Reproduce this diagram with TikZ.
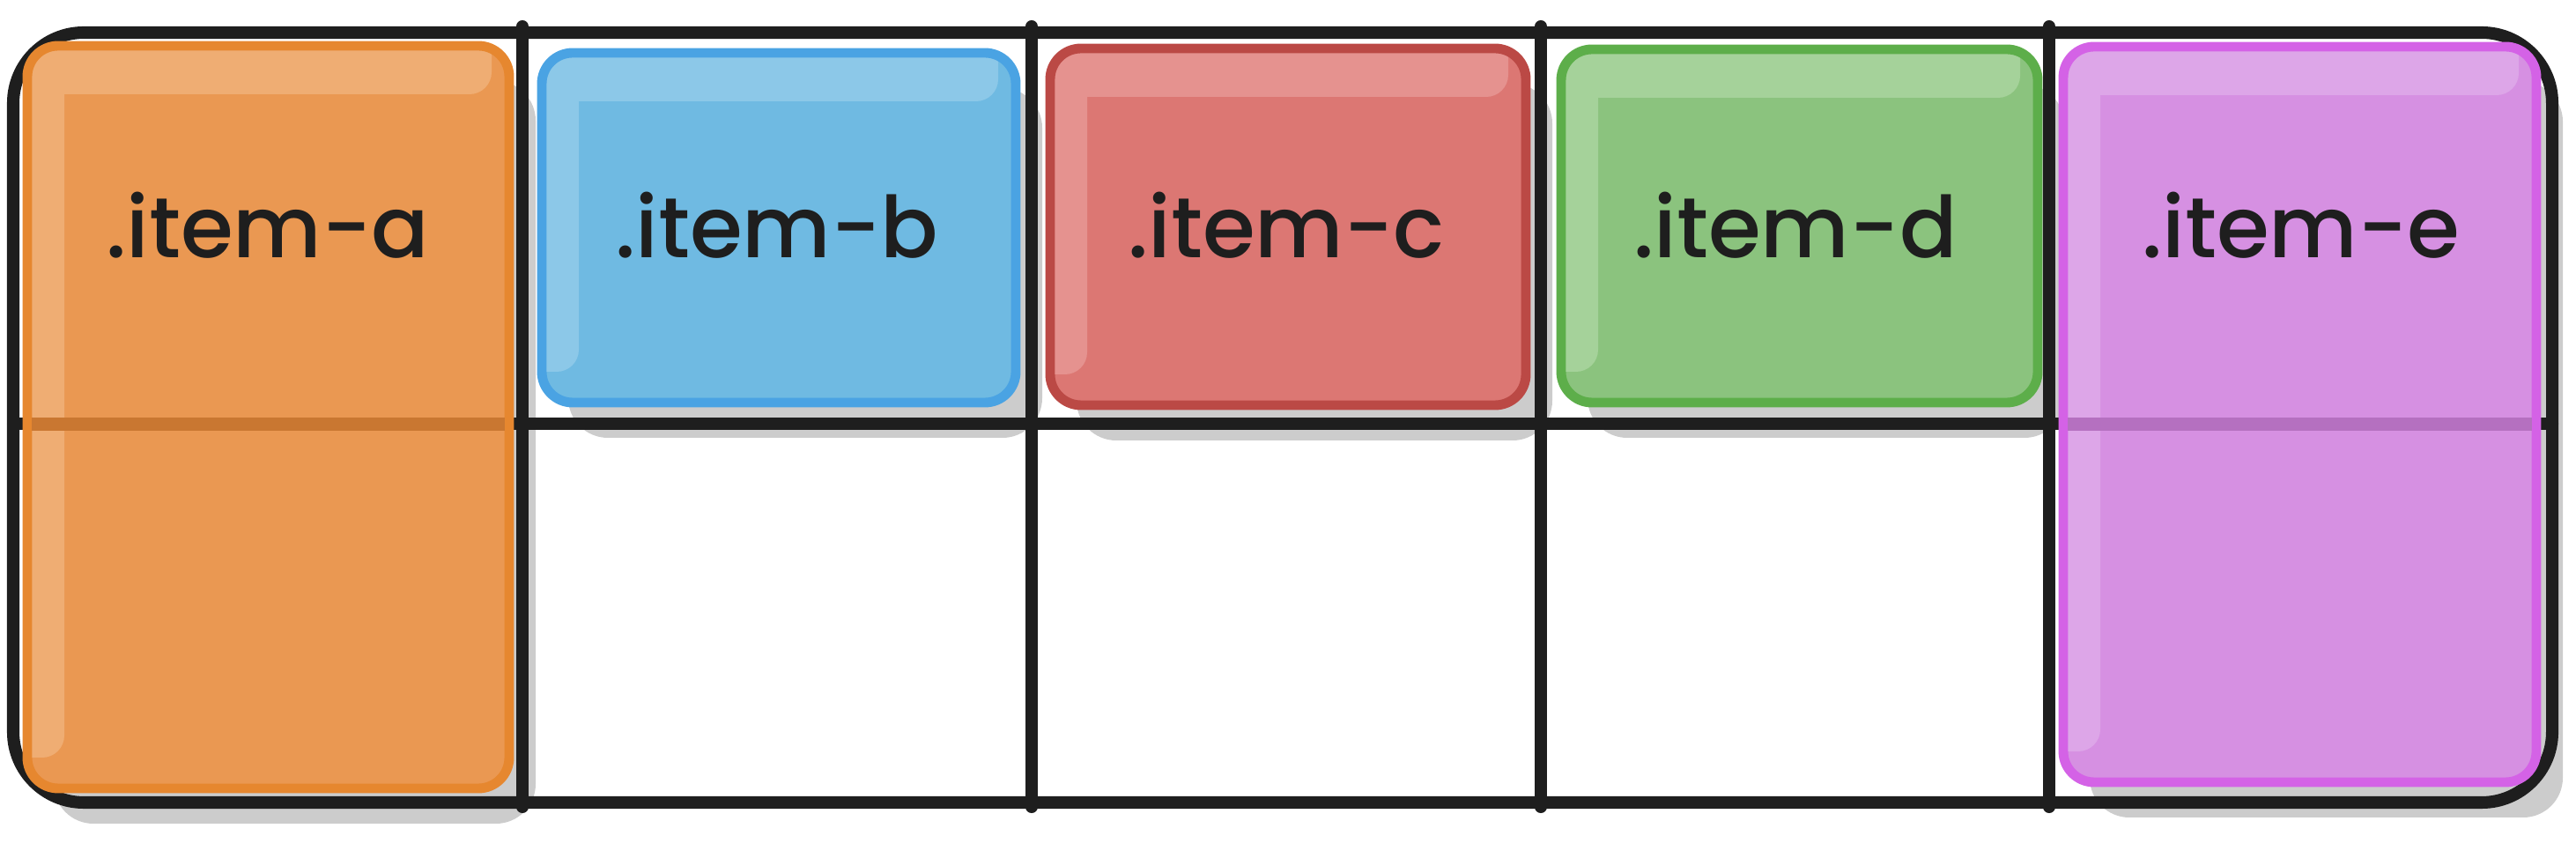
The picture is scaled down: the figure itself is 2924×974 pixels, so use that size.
\documentclass[tikz,border=0pt]{standalone}
\usepackage{fontspec}
\setmainfont{Poppins}
\newfontfamily\lblfont{Poppins Medium}
\definecolor{ink}{HTML}{1E1E1E}
\definecolor{shade}{HTML}{CCCCCC}
\definecolor{aB}{HTML}{E6872F}\definecolor{aM}{HTML}{EA9852}\definecolor{aH}{HTML}{EFAD73}\definecolor{aL}{HTML}{C97731}
\definecolor{bB}{HTML}{4AA3E3}\definecolor{bM}{HTML}{6FBAE2}\definecolor{bH}{HTML}{8CC8E8}
\definecolor{cB}{HTML}{BB4945}\definecolor{cM}{HTML}{DC7773}\definecolor{cH}{HTML}{E5928F}
\definecolor{dB}{HTML}{5DAE4A}\definecolor{dM}{HTML}{8BC37E}\definecolor{dH}{HTML}{A5D29A}
\definecolor{eB}{HTML}{D462E6}\definecolor{eM}{HTML}{D690E2}\definecolor{eH}{HTML}{DDA6E8}\definecolor{eL}{HTML}{B570C0}
\tikzset{
  gridline/.style={draw=ink, line width=4pt, line cap=round, line join=round},
  boxborder/.style={line width=3.1pt, rounded corners=0.35cm},
  shadowbox/.style={fill=shade, rounded corners=0.45cm},
  label/.style={text=ink, font=\lblfont\fontsize{27.5}{33}\selectfont, anchor=base, inner sep=0pt},
}
% #1 L, #2 T, #3 R, #4 B, #5 prefix letter
\newcommand\shadowof[4]{\fill[shadowbox] ({#1+30},{#2+40}) rectangle ({#3+30},{#4+40});}
\newcommand\itembox[5]{%
  \begin{scope}
    \clip[rounded corners=0.35cm] (#1,#2) rectangle (#3,#4);
    \fill[#5M] (#1,#2) rectangle (#3,#4);
    \fill[#5H, rounded corners=0.25cm] ({#1-20},{#2-20}) rectangle ({#3-20},{#2+55});
    \fill[#5H, rounded corners=0.25cm] ({#1-20},{#2-20}) rectangle ({#1+42},{#4-35});
  \end{scope}
  \draw[boxborder, draw=#5B] (#1,#2) rectangle (#3,#4);
}
\begin{document}
\begin{tikzpicture}[x=0.01cm, y=-0.01cm]
\useasboundingbox (0,0) rectangle (2924,974);
% shadows
\shadowof{31}{52}{578}{895}
\shadowof{615}{60}{1153}{457}
\shadowof{1192}{55}{1732}{460}
\shadowof{1772}{56}{2313}{457}
\shadowof{2342}{53}{2879}{888}
% grid
\coordinate (tl) at (15,37);
\coordinate (br) at (2897,911);
\draw[gridline, rounded corners=0.8cm] (tl) rectangle (br);
\coordinate (ml) at (15,481); \coordinate (mr) at (2897,481);
\draw[gridline] (ml) -- (mr);
\foreach \xx/\nm in {593/v1,1171/v2,1749/v3,2326/v4}{
  \coordinate (\nm t) at (\xx,30);
  \coordinate (\nm b) at (\xx,916);
  \draw[gridline] (\nm t) -- (\nm b);
}
% items
\itembox{31}{52}{578}{895}{a}
\itembox{615}{60}{1153}{457}{b}
\itembox{1192}{55}{1732}{460}{c}
\itembox{1772}{56}{2313}{457}{d}
\itembox{2342}{53}{2879}{888}{e}
% line seen through translucent items
\fill[aL] (36,474) rectangle (573,489);
\fill[eL] (2347,474) rectangle (2874,489);
% labels
\node[label] (ta) at (304,293) {.item-a};
\node[label] (tb) at (882,293) {.item-b};
\node[label] (tc) at (1460,293) {.item-c};
\node[label] (td) at (2038,293) {.item-d};
\node[label] (te) at (2612,293) {.item-e};
\end{tikzpicture}
\end{document}
